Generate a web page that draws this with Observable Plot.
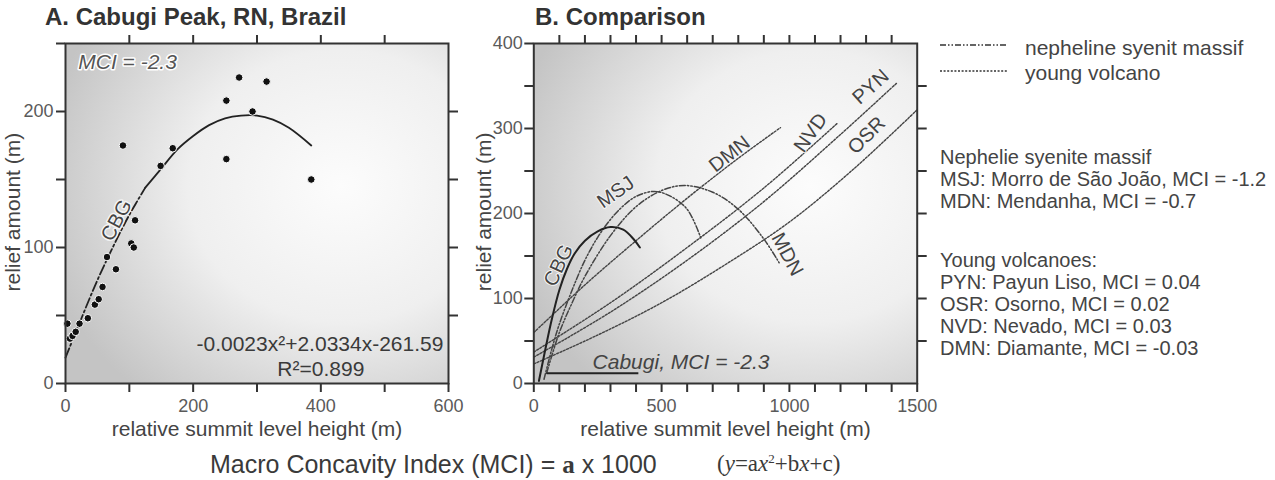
<!DOCTYPE html>
<html><head><meta charset="utf-8">
<script src="https://cdn.jsdelivr.net/npm/d3@7"></script>
<script src="https://cdn.jsdelivr.net/npm/@observablehq/plot@0.6"></script>
<style>
body{margin:0;background:#fff;font-family:"Liberation Sans",Arial,sans-serif;}
#wrap{position:relative;width:1275px;height:480px;overflow:hidden;background:#fff;}
.abs{position:absolute;white-space:nowrap;color:#3c3c3c;}
.plot{position:absolute;top:0;}
.serif{font-family:"Liberation Serif","DejaVu Serif",serif;}
</style></head><body><div id="wrap"></div>
<script>
// ---------- Panel A data: Cabugi Peak ----------
const cabX = [3,7,11,16,22,35,46,52,58,65,79,103,107,109,90,149,168,252,252,272,293,315,385];
const cabY = [44,33,35,38,44,48,58,62,71,93,84,103,100,120,175,160,173,165,208,225,200,222,150];
const fitX = [0,25,50,75,100,125,150,175,200,225,250,275,300,325,350,385];
const fitY = [19,48,76,101,124,144,158,172,182,190,195,197,197,194,188,175];
const dashedUntil = 125;

// ---------- Panel B data: comparison curves ----------
const cbgX = [20,45,70,100,130,160,200,250,300,350,390,415];
const cbgY = [3,40,75,110,135,153,168,179,184,181,170,160];
const msjX = [40,70,100,150,200,250,300,350,400,470,530,600,655];
const msjY = [5,40,70,110,145,172,193,209,220,226,221,205,170];
const mdnX = [50,100,150,200,300,400,500,590,700,800,900,960];
const mdnY = [12,60,95,126,174,208,227,233,225,205,170,142];
const dmnX = [0,200,400,600,800,965];
const dmnY = [60,116,168,218,265,301];
const pynX = [0,300,600,900,1200,1422];
const pynY = [31,84,145,214,293,354];
const nvdX = [0,300,600,900,1187];
const nvdY = [37,95,160,230,306];
const osrX = [0,250,500,750,1000,1250,1500];
const osrY = [23,57,95,140,190,252,322];

const labelsB = ["CBG","MSJ","DMN","NVD","PYN","OSR","MDN"];
const labelsBx = [97,320,766,1083,1318,1302,992];
const labelsBy = [139,225,270,295,349,292,152];
const labelsBrot = [-65,-35,-38,-55,-42,-45,62];

const legendLines = ["nepheline syenit massif","young volcano"];
const infoLines = ["Nephelie syenite massif","MSJ: Morro de São João, MCI = -1.2","MDN: Mendanha, MCI = -0.7",
  "Young volcanoes:","PYN: Payun Liso, MCI = 0.04","OSR: Osorno, MCI =  0.02","NVD: Nevado, MCI = 0.03","DMN: Diamante, MCI = -0.03"];
const infoY = [157,179,201,260,282,304,326,348];

const DASHDOT = "6,2,1.5,2,1.5,2";
const DOTTED = "2,1.6";
const INK = "#444";

const toRows = (xs, ys) => xs.map((x, i) => ({x, y: ys[i]}));
const wrap = document.getElementById("wrap");
const font = "'Liberation Sans', Arial, sans-serif";
const TICK = {stroke: "#333", strokeWidth: 2, tickSize: 9, label: null};

function addGrad(svg, id) {
  const ns = "http://www.w3.org/2000/svg";
  const defs = document.createElementNS(ns, "defs");
  defs.innerHTML = `<radialGradient id="${id}" cx="0.72" cy="0.42" r="0.8">
    <stop offset="0" stop-color="#fcfcfc"/><stop offset="0.5" stop-color="#efefef"/>
    <stop offset="1" stop-color="#c4c4c4"/></radialGradient>`;
  svg.insertBefore(defs, svg.firstChild);
}
function place(el, left) { el.classList.add("plot"); el.style.left = left + "px"; wrap.appendChild(el); }

// ---------- Panel A ----------
const fitRows = toRows(fitX, fitY);
const A = Plot.plot({
  width: 470, height: 440,
  marginLeft: 65, marginRight: 22, marginTop: 43, marginBottom: 57,
  x: {domain: [0, 600]}, y: {domain: [0, 250]},
  style: {fontFamily: font, fontSize: "18px", background: "transparent", overflow: "visible"},
  marks: [
    Plot.frame({fill: "url(#gA)", stroke: "none"}),
    Plot.axisX({...TICK, anchor: "bottom", ticks: d3.range(0, 601, 100), tickFormat: d => d % 200 === 0 ? String(d) : "", tickPadding: 7, fill: "#5a5a5a"}),
    Plot.axisX({...TICK, anchor: "top", ticks: d3.range(100, 501, 100), tickFormat: () => ""}),
    Plot.axisY({...TICK, anchor: "left", ticks: d3.range(0, 251, 50), tickFormat: d => d % 100 === 0 ? String(d) : "", tickPadding: 3, fill: "#5a5a5a"}),
    Plot.axisY({...TICK, anchor: "right", ticks: d3.range(50, 201, 50), tickFormat: () => ""}),
    Plot.line(fitRows.filter(d => d.x <= dashedUntil), {x: "x", y: "y", curve: "catmull-rom", stroke: "#222", strokeWidth: 1.8, strokeDasharray: "10,3,2,3"}),
    Plot.line(fitRows.filter(d => d.x >= dashedUntil), {x: "x", y: "y", curve: "catmull-rom", stroke: "#222", strokeWidth: 1.8}),
    Plot.dot(toRows(cabX, cabY), {x: "x", y: "y", r: 3.8, fill: "#111", stroke: "#fff", strokeWidth: 1}),
    Plot.text(["CBG"], {x: 80, y: 120, rotate: -62, fill: "#444", fontSize: 20, stroke: "#f4f4f4", strokeWidth: 3}),
    Plot.text(["MCI = -2.3"], {x: 20, y: 236.5, textAnchor: "start", fill: "#555", fontSize: 21, fontStyle: "italic", stroke: "#fff", strokeWidth: 3}),
    Plot.text(["-0.0023x²+2.0334x-261.59"], {x: 592, y: 28.5, textAnchor: "end", fill: "#3a3a3a", fontSize: 21}),
    Plot.text(["R²=0.899"], {x: 400, y: 10.8, fill: "#3a3a3a", fontSize: 21}),
    Plot.frame({stroke: "#333", strokeWidth: 2}),
    Plot.text(["relative summit level height (m)"], {x: 300, frameAnchor: "bottom", dy: 52, fill: "#444", fontSize: 21}),
    Plot.text(["relief amount (m)"], {y: 126, frameAnchor: "left", textAnchor: "middle", dx: -52, rotate: -90, fill: "#444", fontSize: 21})
  ]
});
addGrad(A, "gA");
place(A, 0);

// ---------- Panel B ----------
const B = Plot.plot({
  width: 470, height: 440,
  marginLeft: 63.3, marginRight: 23.3, marginTop: 43, marginBottom: 57,
  x: {domain: [0, 1500]}, y: {domain: [0, 400]},
  style: {fontFamily: font, fontSize: "18px", background: "transparent", overflow: "visible"},
  marks: [
    Plot.frame({fill: "url(#gB)", stroke: "none"}),
    Plot.axisX({...TICK, anchor: "bottom", ticks: d3.range(0, 1501, 100), tickFormat: d => d % 500 === 0 ? String(d) : "", tickPadding: 7, fill: "#5a5a5a"}),
    Plot.axisX({...TICK, anchor: "top", ticks: d3.range(100, 1401, 100), tickFormat: () => ""}),
    Plot.axisY({...TICK, anchor: "left", ticks: d3.range(0, 401, 50), tickFormat: d => d % 100 === 0 ? String(d) : "", tickPadding: 2, fill: "#5a5a5a"}),
    Plot.axisY({...TICK, anchor: "right", ticks: d3.range(50, 351, 50), tickFormat: () => ""}),
    Plot.line(toRows(dmnX, dmnY), {x: "x", y: "y", curve: "catmull-rom", stroke: INK, strokeWidth: 1.4, strokeDasharray: DOTTED}),
    Plot.line(toRows(pynX, pynY), {x: "x", y: "y", curve: "catmull-rom", stroke: INK, strokeWidth: 1.4, strokeDasharray: DOTTED}),
    Plot.line(toRows(nvdX, nvdY), {x: "x", y: "y", curve: "catmull-rom", stroke: INK, strokeWidth: 1.4, strokeDasharray: DOTTED}),
    Plot.line(toRows(osrX, osrY), {x: "x", y: "y", curve: "catmull-rom", stroke: INK, strokeWidth: 1.4, strokeDasharray: DOTTED}),
    Plot.line(toRows(msjX, msjY), {x: "x", y: "y", curve: "catmull-rom", stroke: INK, strokeWidth: 1.5, strokeDasharray: DASHDOT}),
    Plot.line(toRows(mdnX, mdnY), {x: "x", y: "y", curve: "catmull-rom", stroke: INK, strokeWidth: 1.5, strokeDasharray: DASHDOT}),
    Plot.line(toRows(cbgX, cbgY), {x: "x", y: "y", curve: "catmull-rom", stroke: "#222", strokeWidth: 2}),
    Plot.ruleY([12], {x1: 52, x2: 411, stroke: "#222", strokeWidth: 2}),
    Plot.text(["Cabugi, MCI = -2.3"], {x: 230, y: 24.7, textAnchor: "start", fill: "#444", fontSize: 21, fontStyle: "italic"}),
    Plot.text(labelsB, {x: (d, i) => labelsBx[i], y: (d, i) => labelsBy[i], rotate: (d, i) => labelsBrot[i], fill: "#444", fontSize: 20, stroke: "#f6f6f6", strokeWidth: 2}),
    Plot.frame({stroke: "#333", strokeWidth: 2}),
    Plot.text(["relative summit level height (m)"], {frameAnchor: "bottom", dy: 52, fill: "#444", fontSize: 21}),
    Plot.text(["relief amount (m)"], {y: 202, frameAnchor: "left", textAnchor: "middle", dx: -50, rotate: -90, fill: "#444", fontSize: 21})
  ]
});
addGrad(B, "gB");
place(B, 470);

// ---------- HTML texts ----------
function addText(html, left, centerY, size, style) {
  const d = document.createElement("div");
  d.className = "abs"; d.innerHTML = html;
  d.style.left = left + "px"; d.style.top = (centerY - size * 0.6) + "px";
  d.style.fontSize = size + "px"; d.style.lineHeight = (size * 1.2) + "px";
  Object.assign(d.style, style || {});
  wrap.appendChild(d);
  return d;
}
addText("A. Cabugi Peak, RN, Brazil", 45, 17, 24, {fontWeight: "bold", color: "#333"});
addText("B. Comparison", 535, 17, 24, {fontWeight: "bold", color: "#333"});

// ---------- Legend ----------
const ns = "http://www.w3.org/2000/svg";
const lg = document.createElementNS(ns, "svg");
lg.setAttribute("width", 80); lg.setAttribute("height", 40);
lg.style.position = "absolute"; lg.style.left = "935px"; lg.style.top = "35px";
lg.innerHTML = `<line x1="5" x2="72" y1="10" y2="10" stroke="#333" stroke-width="1.6" stroke-dasharray="${DASHDOT}"/>
  <line x1="5" x2="72" y1="36" y2="36" stroke="#333" stroke-width="1.6" stroke-dasharray="${DOTTED}"/>`;
wrap.appendChild(lg);
legendLines.forEach((t, i) => addText(t, 1025, 48 + i * 25, 21, {color: "#444"}));
infoLines.forEach((t, i) => addText(t, 940, infoY[i], 20, {color: "#444"}));

// ---------- Formula ----------
addText(`Macro Concavity Index (MCI) = <span class="serif" style="font-weight:bold">a</span> x 1000`, 210, 464, 25, {color: "#3a3a3a"});
addText(`<span class="serif">(<i>y</i>=a<i>x</i><span style="position:relative;top:-8px;font-size:13px">2</span>+b<i>x</i>+c)</span>`, 717, 464, 23, {color: "#3a3a3a"});
</script>
</body></html>
